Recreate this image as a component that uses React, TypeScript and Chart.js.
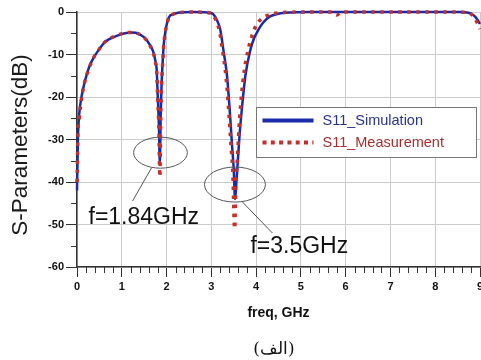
import React, { useEffect, useRef } from "react";
import { Chart, registerables } from "chart.js";

Chart.register(...registerables);

// ---- data (GHz, dB) ----
const simFreq = [0, 0.01, 0.02, 0.05, 0.1, 0.16, 0.27, 0.38, 0.5, 0.6, 0.7, 0.82, 1.0, 1.1, 1.2, 1.31, 1.45, 1.55, 1.6, 1.66, 1.71, 1.75, 1.78, 1.8, 1.83, 1.85, 1.87, 1.89, 1.92, 1.94, 1.98, 2.05, 2.15, 2.25, 2.4, 2.6, 2.8, 2.95, 3.04, 3.12, 3.2, 3.27, 3.35, 3.41, 3.46, 3.5, 3.53, 3.56, 3.58, 3.63, 3.68, 3.76, 3.87, 3.95, 4.05, 4.15, 4.3, 4.5, 4.8, 5.2, 6, 7, 8, 8.6, 8.7, 8.8, 8.9, 9.0];
const simS11 = [-42, -36, -30, -24, -20, -17, -13, -10.6, -8.7, -7.3, -6.5, -5.9, -5.2, -4.95, -4.8, -4.9, -5.6, -6.5, -7.3, -8.3, -9.6, -11.5, -13.6, -19, -27, -35.5, -24, -16.7, -10.5, -7.3, -4.2, -1.3, -0.5, -0.2, -0.05, 0, -0.05, -0.15, -0.5, -1.8, -4.2, -9, -15, -23, -31, -37, -44, -40, -37, -29, -23, -15, -9, -6.3, -4.2, -2.6, -1.1, -0.4, -0.1, 0, 0, 0, 0, 0, -0.1, -0.4, -1.2, -2.8];

const measFreq = [0, 0.01, 0.02, 0.05, 0.1, 0.16, 0.27, 0.38, 0.5, 0.6, 0.7, 0.82, 1.0, 1.1, 1.2, 1.31, 1.45, 1.55, 1.6, 1.66, 1.71, 1.75, 1.78, 1.8, 1.83, 1.85, 1.87, 1.89, 1.92, 1.94, 1.98, 2.05, 2.15, 2.25, 2.4, 2.6, 2.8, 2.95, 3.03, 3.1, 3.18, 3.25, 3.33, 3.39, 3.44, 3.48, 3.52, 3.55, 3.58, 3.62, 3.67, 3.74, 3.82, 3.9, 4.0, 4.12, 4.3, 4.5, 4.8, 5.2, 5.7, 5.8, 5.9, 7, 8, 8.7, 8.8, 8.85, 8.9, 8.95, 9.0];
const measS11 = [-40, -35, -29, -25, -20.5, -17, -13.2, -10.6, -8.7, -7.3, -6.4, -5.8, -5.1, -4.9, -4.8, -4.9, -5.6, -6.6, -7.4, -8.5, -9.8, -11.8, -14, -19.5, -28, -38.8, -24.5, -17, -10.8, -7.5, -4.3, -1.4, -0.5, -0.2, -0.05, 0, -0.05, -0.2, -0.6, -1.9, -4.4, -9, -15.5, -23.5, -31.5, -38, -51, -40, -35, -27, -20, -13.5, -9, -5.8, -3.2, -1.6, -0.6, -0.2, -0.05, 0, 0, -0.7, 0, 0, 0, -0.1, -0.5, -1.0, -1.8, -2.8, -4];

const xTicks = [0, 1, 2, 3, 4, 5, 6, 7, 8, 9];
const yTicks = [0, -10, -20, -30, -40, -50, -60];
const seriesNames = ["S11_Simulation", "S11_Measurement"];

// annotations (data units)
const markLabels = ["f=1.84GHz", "f=3.5GHz"];
const markCenterF = [1.864, 3.527];
const markCenterDb = [-33.1, -40.6];
const markRadiusF = [0.6, 0.68];
const markRadiusDb = [3.65, 4.12];
const leaderFrom = [[1.663, -36.7], [3.694, -44.7]];
const leaderTo = [[1.239, -44.5], [4.364, -52.0]];
const labelAt = [[0.257, -49.9], [3.873, -56.7]];
const legendBox = [4.0, -22.3, 8.92, -34.1];

const SIM_COLOR = "#1a2aa8";
const MEAS_COLOR = "#c0302f";
const FONT = "'Liberation Sans', Arial, sans-serif";

const toXY = (fs: number[], vs: number[]) => fs.map((f, i) => ({ x: f, y: vs[i] }));

const decorPlugin = {
  id: "decor",
  beforeDatasetsDraw(chart: any) {
    const { ctx, chartArea, scales } = chart;
    const x = scales.x, y = scales.y;
    ctx.save();
    ctx.strokeStyle = "#333";
    ctx.lineWidth = 1;
    // minor ticks x (every 0.2)
    for (let i = 0; i <= 45; i++) {
      if (i % 5 === 0) continue;
      const px = Math.round(x.getPixelForValue(i * 0.2)) + 0.5;
      ctx.beginPath();
      ctx.moveTo(px, chartArea.bottom);
      ctx.lineTo(px, chartArea.bottom + 6);
      ctx.stroke();
    }
    // minor ticks y (every 5)
    for (let v = -5; v > -60; v -= 10) {
      const py = Math.round(y.getPixelForValue(v)) + 0.5;
      ctx.beginPath();
      ctx.moveTo(chartArea.left - 6, py);
      ctx.lineTo(chartArea.left, py);
      ctx.stroke();
    }
    ctx.restore();
  },
  afterDraw(chart: any) {
    const { ctx, chartArea, scales } = chart;
    const x = scales.x, y = scales.y;
    ctx.save();
    // y title
    ctx.save();
    ctx.translate(21, (chartArea.top + chartArea.bottom) / 2 + 5.5);
    ctx.rotate(-Math.PI / 2);
    ctx.font = `22.5px ${FONT}`;
    ctx.fillStyle = "#1a1a1a";
    ctx.textAlign = "center";
    ctx.textBaseline = "middle";
    ctx.fillText("S-Parameters(dB)", 0, 0);
    ctx.restore();

    // ellipses, leaders, labels
    ctx.strokeStyle = "#555";
    ctx.lineWidth = 1;
    for (let i = 0; i < markLabels.length; i++) {
      const cx = x.getPixelForValue(markCenterF[i]);
      const cy = y.getPixelForValue(markCenterDb[i]);
      const rx = Math.abs(x.getPixelForValue(markCenterF[i] + markRadiusF[i]) - cx);
      const ry = Math.abs(y.getPixelForValue(markCenterDb[i] + markRadiusDb[i]) - cy);
      ctx.beginPath();
      ctx.ellipse(cx, cy, rx, ry, 0, 0, Math.PI * 2);
      ctx.stroke();
      ctx.beginPath();
      ctx.moveTo(x.getPixelForValue(leaderFrom[i][0]), y.getPixelForValue(leaderFrom[i][1]));
      ctx.lineTo(x.getPixelForValue(leaderTo[i][0]), y.getPixelForValue(leaderTo[i][1]));
      ctx.stroke();
      ctx.font = `23px ${FONT}`;
      ctx.fillStyle = "#111";
      ctx.textAlign = "left";
      ctx.textBaseline = "alphabetic";
      ctx.fillText(markLabels[i], x.getPixelForValue(labelAt[i][0]), y.getPixelForValue(labelAt[i][1]));
    }

    // legend
    const bl = Math.round(x.getPixelForValue(legendBox[0])) + 0.5;
    const bt = Math.round(y.getPixelForValue(legendBox[1])) + 0.5;
    const br = Math.round(x.getPixelForValue(legendBox[2])) + 0.5;
    const bb = Math.round(y.getPixelForValue(legendBox[3])) + 0.5;
    ctx.fillStyle = "#fff";
    ctx.fillRect(bl, bt, br - bl, bb - bt);
    ctx.strokeStyle = "#777";
    ctx.lineWidth = 1;
    ctx.strokeRect(bl, bt, br - bl, bb - bt);
    const rows = [bt + 13, bt + 35];
    ctx.lineWidth = 4;
    ctx.strokeStyle = SIM_COLOR;
    ctx.beginPath();
    ctx.moveTo(bl + 6, rows[0]);
    ctx.lineTo(bl + 57, rows[0]);
    ctx.stroke();
    ctx.strokeStyle = MEAS_COLOR;
    ctx.setLineDash([4, 4.3]);
    ctx.beginPath();
    ctx.moveTo(bl + 6, rows[1]);
    ctx.lineTo(bl + 57, rows[1]);
    ctx.stroke();
    ctx.setLineDash([]);
    ctx.font = `14.5px ${FONT}`;
    ctx.textAlign = "left";
    ctx.textBaseline = "middle";
    ctx.fillStyle = "#27348a";
    ctx.fillText(seriesNames[0], bl + 66, rows[0]);
    ctx.fillStyle = "#a3302f";
    ctx.fillText(seriesNames[1], bl + 66, rows[1]);
    ctx.restore();
  },
};

export default function App() {
  const ref = useRef<HTMLCanvasElement | null>(null);
  useEffect(() => {
    if (!ref.current) return;
    const chart = new Chart(ref.current, {
      type: "line",
      data: {
        datasets: [
          {
            label: seriesNames[1],
            data: toXY(measFreq, measS11),
            borderColor: MEAS_COLOR,
            borderWidth: 3.5,
            borderDash: [3.5, 5.5],
            pointRadius: 0,
            cubicInterpolationMode: "monotone",
            clip: 6,
            order: 0,
          },
          {
            label: seriesNames[0],
            data: toXY(simFreq, simS11),
            borderColor: SIM_COLOR,
            borderWidth: 2.5,
            pointRadius: 0,
            cubicInterpolationMode: "monotone",
            clip: 6,
            order: 1,
          },
        ],
      },
      options: {
        responsive: false,
        animation: false,
        devicePixelRatio: 1,
        layout: { padding: { left: 0, right: 20, top: 12, bottom: 0 } },
        plugins: { legend: { display: false }, tooltip: { enabled: false }, title: { display: false } },
        scales: {
          x: {
            type: "linear",
            min: 0,
            max: 9,
            afterBuildTicks: (s: any) => { s.ticks = xTicks.map((v) => ({ value: v })); },
            ticks: { color: "#111", font: { family: FONT, size: 11, weight: "bold" }, padding: 3, maxRotation: 0, autoSkip: false },
            grid: { color: "#cccccc", tickColor: "#333", tickLength: 10, lineWidth: 1 },
            border: { color: "#333", width: 1.5 },
            title: { display: true, text: "freq, GHz", color: "#111", font: { family: FONT, size: 14, weight: "bold" }, padding: { top: 0, bottom: 38.6 } },
            afterFit: (s: any) => { s.height = 93; },
          },
          y: {
            type: "linear",
            min: -60,
            max: 0,
            afterBuildTicks: (s: any) => { s.ticks = yTicks.map((v) => ({ value: v })); },
            ticks: { color: "#111", font: { family: FONT, size: 11, weight: "bold" }, padding: 2, autoSkip: false },
            grid: { color: "#cccccc", tickColor: "#333", tickLength: 11, lineWidth: 1 },
            border: { color: "#333", width: 1.5 },
            afterFit: (s: any) => { s.width = 77; },
          },
        },
      },
      plugins: [decorPlugin],
    });
    return () => chart.destroy();
  }, []);
  return (
    <div style={{ position: "fixed", left: 0, top: 0, width: 481, height: 360, overflow: "hidden", background: "#fff" }}>
      <canvas ref={ref} width={500} height={360} style={{ display: "block" }} />
      <div style={{ position: "absolute", left: 224, top: 337, width: 100, textAlign: "center", fontFamily: "'DejaVu Serif', serif", fontSize: 17, lineHeight: "22px", color: "#111" }}>
        (الف)
      </div>
    </div>
  );
}
